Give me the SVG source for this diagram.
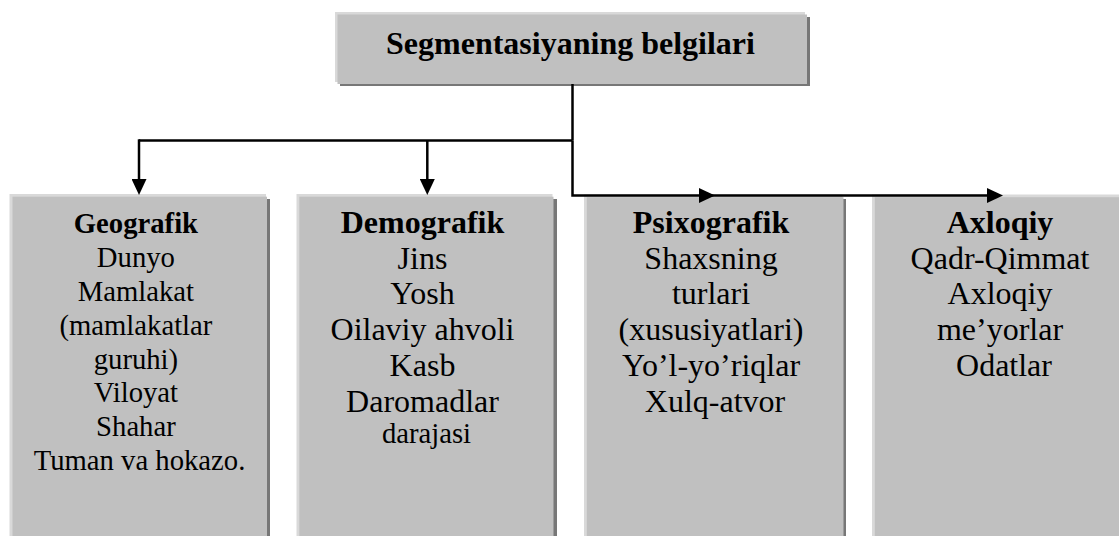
<svg xmlns="http://www.w3.org/2000/svg" width="1119" height="536" viewBox="0 0 1119 536">
  <style>
    .hl { fill: #d9d9d9; }
    .bx { fill: #c0c0c0; }
    .sh { fill: #777777; }
    .t { font-family: "Liberation Serif", "Times New Roman", serif; fill: #000; text-anchor: middle; }
    .b { font-weight: bold; }
    .s32 { font-size: 32px; }
    .s29 { font-size: 28.7px; }
    .ln { fill: none; stroke: #000; stroke-width: 2.5; }
  </style>
  <defs>
    <marker id="arr" markerUnits="userSpaceOnUse" viewBox="0 0 16 15" refX="7" refY="7.5" markerWidth="16" markerHeight="15" orient="auto">
      <path d="M0,0 L16,7.5 L0,15 z" fill="#000"/>
    </marker>
  </defs>
  <rect width="1119" height="536" fill="#ffffff"/>

  <g id="top">
    <rect class="sh" x="340" y="17" width="470" height="69"/>
    <rect class="hl" x="335" y="12" width="470" height="70"/>
    <rect class="bx" x="337.5" y="14.5" width="469.5" height="69.5"/>
    <text class="t b s32" x="570.5" y="54">Segmentasiyaning belgilari</text>
  </g>

  <g id="geografik">
    <rect class="sh" x="15" y="199" width="255" height="345"/>
    <rect class="hl" x="9.5" y="194" width="256.5" height="350"/>
    <rect class="bx" x="12.5" y="196.7" width="254.5" height="350"/>
    <text class="t s29">
      <tspan class="b" x="139.5" y="233.3">Geografik</tspan>
      <tspan x="139.5" y="267.1">Dunyo</tspan>
      <tspan x="139.5" y="300.9">Mamlakat</tspan>
      <tspan x="139.5" y="334.7">(mamlakatlar</tspan>
      <tspan x="139.5" y="368.5">guruhi)</tspan>
      <tspan x="139.5" y="402.3">Viloyat</tspan>
      <tspan x="139.5" y="436.1">Shahar</tspan>
      <tspan x="139.5" y="469.9">Tuman va hokazo.</tspan>
    </text>
  </g>

  <g id="demografik">
    <rect class="sh" x="301.5" y="199" width="255.5" height="345"/>
    <rect class="hl" x="296.5" y="194" width="256" height="350"/>
    <rect class="bx" x="299.3" y="196.7" width="254.2" height="350"/>
    <text class="t s32">
      <tspan class="b" x="426.5" y="233">Demografik</tspan>
      <tspan x="426.5" y="268.7">Jins</tspan>
      <tspan x="426.5" y="304.4">Yosh</tspan>
      <tspan x="426.5" y="340.1">Oilaviy ahvoli</tspan>
      <tspan x="426.5" y="375.8">Kasb</tspan>
      <tspan x="426.5" y="411.5">Daromadlar</tspan>
      <tspan x="426.5" y="443" style="font-size:28.7px">darajasi</tspan>
    </text>
  </g>

  <g id="psixografik">
    <rect class="sh" x="589" y="199" width="257" height="345"/>
    <rect class="hl" x="584" y="194.5" width="258.5" height="350"/>
    <rect class="bx" x="586.8" y="197.2" width="256.7" height="350"/>
    <text class="t s32">
      <tspan class="b" x="715" y="233">Psixografik</tspan>
      <tspan x="715" y="268.7">Shaxsning</tspan>
      <tspan x="715" y="304.4">turlari</tspan>
      <tspan x="715" y="340.1">(xususiyatlari)</tspan>
      <tspan x="715" y="375.8">Yo’l-yo’riqlar</tspan>
      <tspan x="715" y="411.5">Xulq-atvor</tspan>
    </text>
  </g>

  <g id="axloqiy">
    <rect class="sh" x="877" y="199" width="270" height="345"/>
    <rect class="hl" x="872" y="194.5" width="270" height="350"/>
    <rect class="bx" x="874.8" y="197.2" width="270" height="350"/>
    <text class="t s32">
      <tspan class="b" x="1004" y="233">Axloqiy</tspan>
      <tspan x="1004" y="268.7">Qadr-Qimmat</tspan>
      <tspan x="1004" y="304.4">Axloqiy</tspan>
      <tspan x="1004" y="340.1">me’yorlar</tspan>
      <tspan x="1004" y="375.8">Odatlar</tspan>
    </text>
  </g>

  <g id="connectors">
    <path class="ln" d="M572.5,84 V140.5"/>
    <path class="ln" d="M139,140.5 H572.5"/>
    <path class="ln" d="M139,139.3 V186" marker-end="url(#arr)"/>
    <path class="ln" d="M427.3,140.5 V186" marker-end="url(#arr)"/>
    <path class="ln" d="M572.5,140.5 V195.5 H706" marker-end="url(#arr)"/>
    <path class="ln" d="M706,195.5 H994" marker-end="url(#arr)"/>
  </g>
</svg>
